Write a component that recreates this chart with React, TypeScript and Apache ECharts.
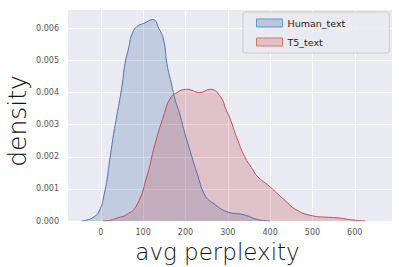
import React, { useEffect, useRef } from "react";
import * as echarts from "echarts";

const humanX = [-45, -33, -20, -5, 9, 21, 30, 38, 50, 57, 66, 73, 85, 101, 123, 137, 149, 156, 168, 175, 187, 199, 206, 222, 227, 246, 265, 300, 336, 376, 400];
const humanY = [0, 0.00003, 0.0001, 0.00028, 0.0009, 0.0019, 0.0027, 0.0033, 0.0042, 0.0049, 0.0054, 0.0058, 0.00605, 0.00615, 0.00627, 0.006, 0.0056, 0.0049, 0.0042, 0.0038, 0.0033, 0.0027, 0.0024, 0.0017, 0.0015, 0.0008, 0.00056, 0.00028, 0.0002, 0.00003, 0];

const t5X = [5, 21, 40, 61, 85, 109, 128, 149, 163, 180, 203, 234, 258, 281, 298, 305, 321, 340, 359, 369, 400, 430, 463, 501, 530, 558, 596, 625];
const t5Y = [0, 0.00002, 0.0001, 0.0002, 0.0005, 0.0014, 0.0024, 0.0033, 0.0038, 0.004, 0.0041, 0.004, 0.0041, 0.0039, 0.0034, 0.0032, 0.0026, 0.002, 0.0016, 0.0014, 0.00106, 0.0007, 0.00034, 0.00016, 0.00012, 0.0001, 0.00003, 0];

const seriesNames = ["Human_text", "T5_text"];
const xTicks = [0, 100, 200, 300, 400, 500, 600];
const yTitle = "density";
const xTitle = "avg perplexity";

export default function App() {
  const ref = useRef<HTMLDivElement>(null);
  useEffect(() => {
    if (!ref.current) return;
    const chart = echarts.init(ref.current, undefined, { renderer: "svg" });
    const labelFont = { fontFamily: "DejaVu Sans", fontSize: 8, color: "#555" };
    const nameFont = "'DejaVu Sans ExtraLight', 'DejaVu Sans'";
    const option = {
      animation: false,
      backgroundColor: "#ffffff",
      grid: {
        left: 67,
        right: 7,
        top: 9,
        bottom: 46,
        outerBoundsMode: "none",
        containLabel: false,
        backgroundColor: "#eaeaf2",
        show: true,
        borderWidth: 0,
      },
      graphic: [
        {
          type: "text",
          x: 17,
          y: 121,
          rotation: Math.PI / 2,
          style: {
            text: yTitle,
            fontFamily: nameFont,
            fontWeight: 200,
            fontSize: 25,
            fill: "#111",
            align: "center",
            verticalAlign: "middle",
          },
        },
      ],
      legend: {
        orient: "vertical",
        left: 243,
        top: 12,
        padding: [5, 44, 5, 13],
        itemWidth: 26,
        itemHeight: 8,
        itemGap: 7,
        backgroundColor: "rgba(234,234,242,0.85)",
        borderColor: "#cccccc",
        borderWidth: 1,
        borderRadius: 2,
        textStyle: { fontFamily: "DejaVu Sans", fontSize: 9.5, color: "#222", lineHeight: 12 },
        data: [
          { name: seriesNames[0], icon: "rect", itemStyle: { color: "rgba(76,114,176,0.3)", borderColor: "#5a9bc8", borderWidth: 1 } },
          { name: seriesNames[1], icon: "rect", itemStyle: { color: "rgba(196,78,82,0.25)", borderColor: "#d8775c", borderWidth: 1 } },
        ],
      },
      xAxis: {
        type: "value",
        min: -80,
        max: 688,
        splitNumber: 8,
        axisLine: { show: false },
        axisTick: { show: false },
        splitLine: { show: true, lineStyle: { color: "#ffffff", width: 1 } },
        axisLabel: {
          ...labelFont,
          margin: 7,
          showMinLabel: false,
          showMaxLabel: false,
          formatter: (v: number) => (xTicks.indexOf(v) >= 0 ? String(v) : ""),
        },
        name: xTitle,
        nameLocation: "middle",
        nameGap: 14,
        nameTextStyle: { fontFamily: nameFont, fontWeight: 200, fontSize: 23, color: "#111", padding: [0, 24, 0, 0] },
      },
      yAxis: {
        type: "value",
        min: 0,
        max: 0.0066,
        interval: 0.001,
        axisLine: { show: false },
        axisTick: { show: false },
        splitLine: { show: true, lineStyle: { color: "#ffffff", width: 1 } },
        axisLabel: {
          ...labelFont,
          margin: 8,
          showMaxLabel: false,
          formatter: (v: number) => (v > 0.0061 ? "" : v.toFixed(3)),
        },
      },
      series: [
        {
          name: seriesNames[0],
          type: "line",
          smooth: 0.5,
          symbol: "none",
          data: humanX.map((x, i) => [x, humanY[i]]),
          lineStyle: { color: "#4c72b0", width: 1 },
          itemStyle: { color: "#4c72b0" },
          areaStyle: { color: "#4c72b0", opacity: 0.25 },
        },
        {
          name: seriesNames[1],
          type: "line",
          smooth: 0.5,
          symbol: "none",
          data: t5X.map((x, i) => [x, t5Y[i]]),
          lineStyle: { color: "#c44e52", width: 1 },
          itemStyle: { color: "#c44e52" },
          areaStyle: { color: "#c44e52", opacity: 0.25 },
        },
      ],
    };
    chart.setOption(option as any);
    return () => chart.dispose();
  }, []);
  return <div ref={ref} style={{ width: 399, height: 267, position: "absolute", left: 0, top: 0 }} />;
}
